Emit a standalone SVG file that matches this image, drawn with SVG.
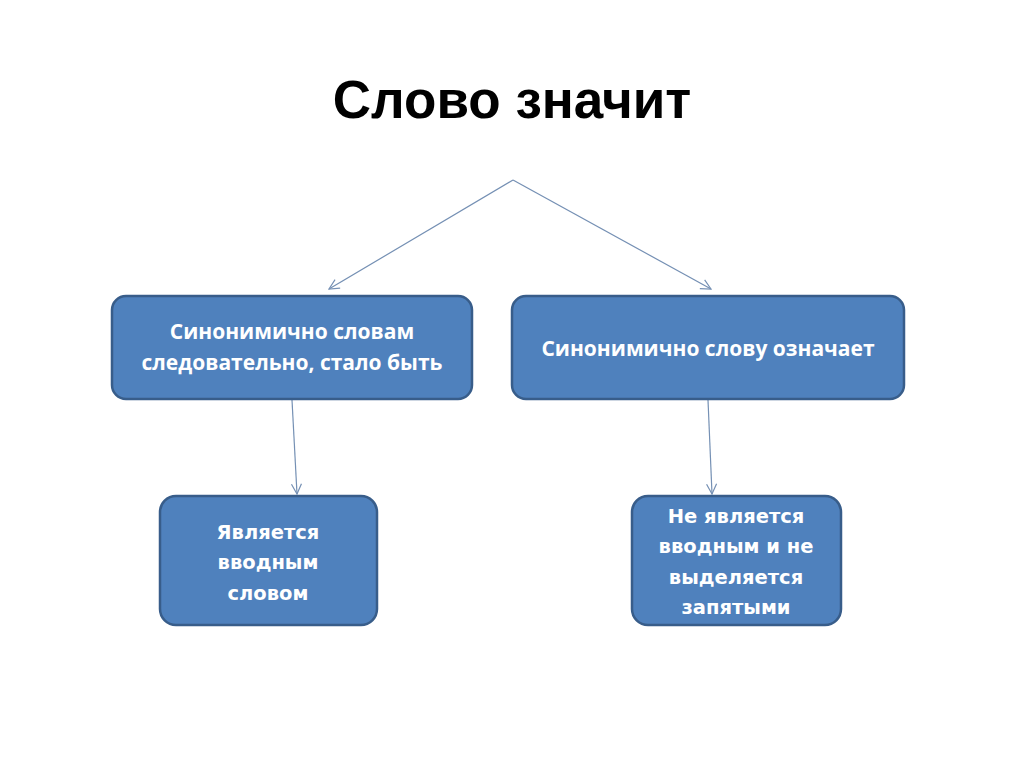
<svg xmlns="http://www.w3.org/2000/svg" width="1024" height="768" viewBox="0 0 1024 768">
<style>
.box{fill:#4f81bd;stroke:#385d8a;stroke-width:2.5}
.t1{font-family:"Open Sans","Liberation Sans",sans-serif;font-weight:bold;font-size:21px;fill:#fff;text-anchor:middle}
.t2{font-family:"DejaVu Sans","Liberation Sans",sans-serif;font-weight:bold;font-size:19.5px;fill:#fff;text-anchor:middle}
.c{stroke:#7590b4;stroke-width:1.2;fill:none;marker-end:url(#ah)}
</style>
<defs>
<marker id="ah" viewBox="0 0 12 12" refX="11" refY="6" markerWidth="12" markerHeight="12" markerUnits="userSpaceOnUse" orient="auto">
<path d="M1,1 L11,6 L1,11" fill="none" stroke="#7590b4" stroke-width="1.2"/>
</marker>
</defs>
<rect width="1024" height="768" fill="#fff"/>
<text x="512" y="118" font-family="Liberation Sans, Arial, sans-serif" font-weight="bold" font-size="53" fill="#000" text-anchor="middle">Слово значит</text>
<g id="connectors">
<line class="c" x1="513" y1="180" x2="329" y2="289"/>
<line class="c" x1="513" y1="180" x2="711" y2="289"/>
<line class="c" x1="292" y1="400" x2="297" y2="494"/>
<line class="c" x1="708" y1="400" x2="712" y2="494"/>
</g>
<g id="n1">
<rect class="box" x="112" y="296" width="360" height="103" rx="14"/>
<text class="t1" x="292" y="339">Синонимично словам</text>
<text class="t1" x="292" y="370">следовательно, стало быть</text>
</g>
<g id="n2">
<rect class="box" x="512" y="296" width="392" height="103" rx="14"/>
<text class="t1" x="708" y="356">Синонимично слову означает</text>
</g>
<g id="n3">
<rect class="box" x="160" y="496" width="217" height="129" rx="16"/>
<text class="t2" x="268" y="539">Является</text>
<text class="t2" x="268" y="569">вводным</text>
<text class="t2" x="268" y="600">словом</text>
</g>
<g id="n4">
<rect class="box" x="632" y="496" width="209" height="129" rx="16"/>
<text class="t2" x="736" y="523">Не является</text>
<text class="t2" x="736" y="553">вводным и не</text>
<text class="t2" x="736" y="584">выделяется</text>
<text class="t2" x="736" y="614">запятыми</text>
</g>
</svg>
